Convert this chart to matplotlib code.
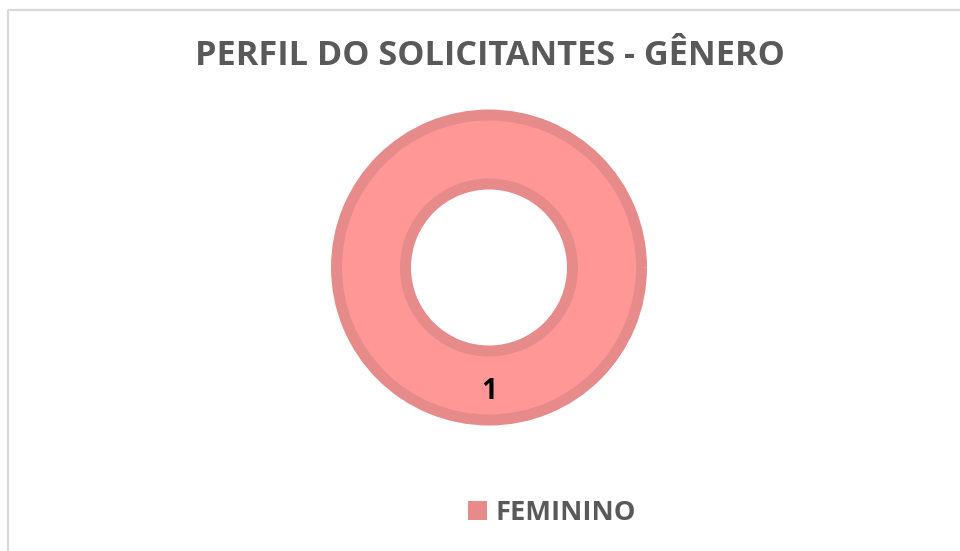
import matplotlib
matplotlib.use("Agg")
import matplotlib.pyplot as plt
from matplotlib.patches import Rectangle, Patch

title = "PERFIL DO SOLICITANTES - GÊNERO"
categories = ["FEMININO"]
values = [1]

fill_color = "#FF9797"
edge_color = "#E68A8A"
text_color = "#595959"

plt.rcParams['font.family'] = ['Open Sans', 'DejaVu Sans']

W, H = 960, 551
fig = plt.figure(figsize=(W / 100, H / 100), dpi=100)
ax = fig.add_axes([0, 0, 1, 1])

total = sum(values)
wedges, texts, autotexts = ax.pie(
    values,
    center=(489, 267.5),
    radius=152.5,
    startangle=-90,
    colors=[fill_color],
    wedgeprops=dict(width=69, edgecolor=edge_color, linewidth=7.9),
    autopct=lambda p: f"{p * total / 100:.0f}",
    pctdistance=0.81,
    textprops=dict(fontsize=20, fontweight='bold', color='black'),
)
for t in autotexts:
    t.set_va('center')
    t.set_ha('center')

ax.set_xlim(0, W)
ax.set_ylim(H, 0)
ax.set_aspect('auto')
ax.axis('off')

ax.add_patch(Rectangle((7.5, 9.5), 2000, 2000, fill=False,
                       edgecolor="#D9D9D9", linewidth=1.6))

ax.text(490, 56, title, ha='center', va='center', fontsize=24.7,
        fontweight='bold', color=text_color)

handles = [Patch(facecolor=edge_color, edgecolor='none') for _ in categories]
leg = ax.legend(handles, categories, loc='center', bbox_to_anchor=(552 / W, 1 - 513 / H),
                frameon=False, handlelength=0.72, handleheight=0.72,
                handletextpad=0.3, prop=dict(weight='bold', size=19.6))
for t in leg.get_texts():
    t.set_color(text_color)

fig.savefig("out.png", dpi=100)
